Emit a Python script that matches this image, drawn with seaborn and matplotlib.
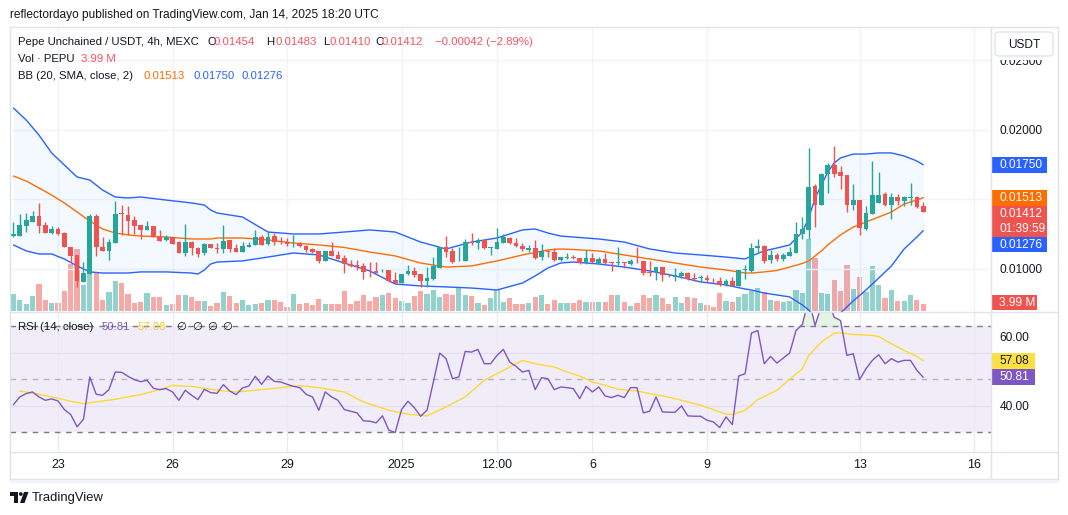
import numpy as np
import matplotlib
matplotlib.use("Agg")
import matplotlib.pyplot as plt
import seaborn as sns
from matplotlib.patches import Rectangle, FancyBboxPatch, Polygon, Circle
from matplotlib.lines import Line2D
from matplotlib.transforms import IdentityTransform

# ---------------- data ----------------
tick_labels = ["23", "26", "29", "2025", "12:00", "6", "9", "13", "16"]
tick_candle = [7, 25, 43, 61, 76, 91, 109, 133, 151]

opens = [0.01240,0.01240,0.01312,0.01341,0.01381,0.01317,0.01261,0.01288,0.01261,0.01156,
         0.01101,0.00909,0.00962,0.01381,0.01161,0.01132,0.01189,0.01400,0.01388,0.01353,
         0.01317,0.01281,0.01309,0.01233,0.01209,0.01228,0.01192,0.01118,0.01197,0.01149,
         0.01113,0.01178,0.01151,0.01142,0.01209,0.01153,0.01125,0.01161,0.01173,0.01228,
         0.01180,0.01237,0.01199,0.01192,0.01177,0.01185,0.01165,0.01144,0.01129,0.01060,
         0.01129,0.01101,0.01082,0.01036,0.01029,0.01024,0.00988,0.00983,0.00983,0.00993,
         0.00921,0.00902,0.00962,0.00986,0.00964,0.00916,0.00926,0.01010,0.01156,0.01129,
         0.01062,0.01060,0.01197,0.01185,0.01209,0.01151,0.01142,0.01190,0.01225,0.01190,
         0.01165,0.01137,0.01149,0.01089,0.01125,0.01125,0.01065,0.01082,0.01086,0.01077,
         0.01041,0.01077,0.01046,0.01072,0.01048,0.01043,0.01046,0.01034,0.01060,0.01058,
         0.00981,0.00976,0.01012,0.00952,0.00945,0.00950,0.00974,0.00933,0.00935,0.00938,
         0.00923,0.00914,0.00885,0.00914,0.00880,0.00991,0.00988,0.01149,0.01166,0.01065,
         0.01101,0.01070,0.01096,0.01118,0.01252,0.01281,0.01597,0.01461,0.01681,0.01748,
         0.01698,0.01676,0.01461,0.01496,0.01288,0.01396,0.01477,0.01540,0.01461,0.01520,
         0.01489,0.01513,0.01516,0.01454]
highs = [0.01341,0.01396,0.01400,0.01420,0.01477,0.01341,0.01309,0.01305,0.01269,0.01161,
         0.01101,0.01053,0.01393,0.01396,0.01228,0.01216,0.01489,0.01460,0.01456,0.01381,
         0.01317,0.01348,0.01309,0.01281,0.01245,0.01233,0.01201,0.01321,0.01201,0.01161,
         0.01185,0.01180,0.01185,0.01317,0.01209,0.01178,0.01197,0.01197,0.01281,0.01245,
         0.01269,0.01261,0.01233,0.01221,0.01245,0.01197,0.01173,0.01149,0.01129,0.01130,
         0.01197,0.01130,0.01101,0.01065,0.01065,0.01041,0.01050,0.01053,0.00998,0.00993,
         0.00981,0.00965,0.01029,0.01012,0.00965,0.01012,0.01089,0.01157,0.01237,0.01149,
         0.01156,0.01213,0.01257,0.01225,0.01210,0.01161,0.01293,0.01249,0.01233,0.01221,
         0.01185,0.01173,0.01209,0.01177,0.01137,0.01149,0.01089,0.01113,0.01101,0.01077,
         0.01137,0.01113,0.01089,0.01117,0.01053,0.01156,0.01053,0.01070,0.01161,0.01058,
         0.01058,0.01013,0.01017,0.00962,0.01005,0.00988,0.00981,0.00974,0.00957,0.00957,
         0.00933,0.00945,0.00926,0.00940,0.00994,0.01030,0.01190,0.01218,0.01173,0.01137,
         0.01118,0.01113,0.01156,0.01341,0.01372,0.01868,0.01612,0.01688,0.01760,0.01885,
         0.01740,0.01677,0.01612,0.01497,0.01456,0.01779,0.01695,0.01556,0.01544,0.01537,
         0.01528,0.01621,0.01525,0.01483]
lows = [0.01233,0.01239,0.01269,0.01340,0.01257,0.01257,0.01249,0.01245,0.01160,0.01053,
        0.00873,0.00908,0.00961,0.01094,0.01131,0.01065,0.01185,0.01245,0.01245,0.01249,
        0.01216,0.01280,0.01228,0.01203,0.01204,0.01179,0.01117,0.01094,0.01101,0.01084,
        0.01101,0.01148,0.01117,0.01117,0.01125,0.01120,0.01124,0.01156,0.01172,0.01172,
        0.01172,0.01172,0.01177,0.01165,0.01156,0.01156,0.01125,0.01117,0.01041,0.01059,
        0.01095,0.01070,0.00974,0.01017,0.00993,0.00930,0.00945,0.00973,0.00978,0.00909,
        0.00897,0.00897,0.00957,0.00940,0.00873,0.00873,0.00921,0.01005,0.01089,0.01041,
        0.01057,0.01059,0.01173,0.01142,0.01144,0.01101,0.01141,0.01185,0.01180,0.01161,
        0.01132,0.01125,0.01070,0.01065,0.01089,0.01060,0.01060,0.01070,0.01070,0.01036,
        0.01036,0.01046,0.01036,0.01036,0.00986,0.01029,0.01009,0.01029,0.01046,0.00957,
        0.00950,0.00921,0.00916,0.00940,0.00916,0.00933,0.00921,0.00916,0.00909,0.00909,
        0.00909,0.00880,0.00880,0.00879,0.00879,0.00926,0.00981,0.01113,0.01046,0.01046,
        0.01060,0.01060,0.01094,0.01113,0.01216,0.01213,0.01300,0.01460,0.01544,0.01664,
        0.01573,0.01413,0.01425,0.01245,0.01281,0.01395,0.01472,0.01453,0.01360,0.01461,
        0.01456,0.01461,0.01437,0.01410]
closes = [0.01249,0.01317,0.01353,0.01381,0.01312,0.01261,0.01288,0.01249,0.01161,0.01096,
          0.00916,0.00969,0.01381,0.01161,0.01132,0.01192,0.01396,0.01396,0.01348,0.01312,
          0.01281,0.01309,0.01233,0.01204,0.01228,0.01180,0.01118,0.01192,0.01149,0.01108,
          0.01180,0.01149,0.01146,0.01201,0.01144,0.01125,0.01165,0.01173,0.01228,0.01173,
          0.01228,0.01192,0.01194,0.01177,0.01182,0.01165,0.01137,0.01120,0.01060,0.01129,
          0.01096,0.01072,0.01034,0.01022,0.01012,0.00981,0.00983,0.00974,0.00988,0.00916,
          0.00902,0.00964,0.00986,0.00957,0.00916,0.00933,0.01022,0.01156,0.01125,0.01048,
          0.01067,0.01192,0.01185,0.01209,0.01149,0.01156,0.01192,0.01228,0.01185,0.01168,
          0.01142,0.01153,0.01077,0.01130,0.01120,0.01065,0.01084,0.01086,0.01082,0.01041,
          0.01077,0.01053,0.01072,0.01041,0.01043,0.01048,0.01041,0.01060,0.01055,0.00969,
          0.00974,0.01012,0.00957,0.00947,0.00957,0.00974,0.00928,0.00928,0.00940,0.00921,
          0.00918,0.00885,0.00914,0.00880,0.00993,0.00995,0.01149,0.01166,0.01060,0.01101,
          0.01072,0.01101,0.01125,0.01252,0.01288,0.01592,0.01461,0.01683,0.01748,0.01683,
          0.01669,0.01461,0.01496,0.01293,0.01401,0.01532,0.01532,0.01461,0.01520,0.01492,
          0.01520,0.01518,0.01449,0.01412]
volume_m = [9.69,6.27,3.99,8.55,15.39,6.27,4.56,4.56,11.40,26.79,
            35.34,14.82,21.66,21.66,6.27,10.83,17.10,15.96,9.69,4.56,
            5.13,10.26,7.98,7.98,3.42,3.99,9.12,9.12,7.98,5.70,
            5.70,2.85,4.56,10.83,8.55,4.56,6.27,3.42,3.99,4.56,
            6.27,6.27,5.13,2.28,9.69,3.99,4.56,3.42,6.84,3.99,
            3.99,3.99,11.40,3.99,5.70,9.12,5.70,7.98,9.12,10.26,
            7.41,5.70,4.56,8.55,11.40,9.69,11.97,7.98,9.69,9.12,
            13.68,9.12,8.55,4.56,3.42,7.41,11.97,5.13,7.41,3.99,
            3.99,4.56,7.98,9.12,3.99,6.27,4.56,4.56,4.56,6.27,
            5.13,5.13,5.13,5.13,9.12,9.12,5.13,2.85,4.56,9.12,
            7.41,9.12,7.41,3.99,7.98,4.56,7.98,7.41,4.56,3.42,
            2.28,10.26,5.70,5.13,7.98,9.69,11.40,13.11,10.83,6.27,
            5.70,5.13,5.70,11.97,10.26,41.04,30.21,10.26,9.69,17.67,
            11.40,26.22,12.54,19.38,10.83,25.65,14.82,7.41,11.97,5.70,
            5.70,9.12,6.27,3.99]

bb_idx = [0,2,4,6,8,10,12,14,16,18,20,24,28,29,30,31,32,36,40,44,48,52,56,60,64,68,72,76,80,82,
          84,86,88,92,96,100,104,108,112,115,116,118,120,122,124,125,126,127,128,129,130,132,134,136,138,140,142,143]
bb_upper = [0.02158,0.02072,0.01964,0.01835,0.01748,0.01662,0.01640,0.01568,0.01518,0.01511,
            0.01518,0.01496,0.01475,0.01468,0.01460,0.01424,0.01403,0.01374,0.01266,0.01252,
            0.01252,0.01266,0.01281,0.01266,0.01194,0.01144,0.01194,0.01223,0.01281,0.01288,
            0.01259,0.01237,0.01230,0.01216,0.01194,0.01144,0.01115,0.01101,0.01086,0.01072,
            0.01094,0.01130,0.01151,0.01173,0.01266,0.01367,0.01511,0.01604,0.01698,0.01763,
            0.01799,0.01827,0.01827,0.01835,0.01835,0.01813,0.01777,0.01750]
bb_mid = [0.01669,0.01633,0.01583,0.01532,0.01475,0.01410,0.01345,0.01288,0.01259,0.01245,
          0.01237,0.01230,0.01216,0.01216,0.01216,0.01216,0.01223,0.01223,0.01209,0.01187,
          0.01173,0.01155,0.01122,0.01094,0.01043,0.01014,0.01022,0.01058,0.01101,0.01119,
          0.01137,0.01144,0.01140,0.01130,0.01101,0.01072,0.01043,0.01014,0.00993,0.00971,
          0.00971,0.00979,0.00989,0.01014,0.01040,0.01058,0.01094,0.01130,0.01173,0.01209,
          0.01245,0.01302,0.01338,0.01374,0.01410,0.01468,0.01496,0.01513]
bb_lower = [0.01173,0.01130,0.01108,0.01108,0.01072,0.01022,0.00979,0.00971,0.00971,0.00971,
            0.00979,0.00979,0.00971,0.00964,0.00993,0.01036,0.01050,0.01058,0.01086,0.01115,
            0.01101,0.01043,0.00986,0.00892,0.00878,0.00871,0.00863,0.00849,0.00899,0.00950,
            0.01007,0.01043,0.01050,0.01036,0.01014,0.00986,0.00950,0.00907,0.00885,0.00856,
            0.00849,0.00827,0.00813,0.00799,0.00741,0.00705,0.00648,0.00619,0.00597,0.00619,
            0.00684,0.00770,0.00849,0.00935,0.01022,0.01144,0.01230,0.01276]

rsi = [40.53,43.42,44.67,45.30,43.42,42.16,42.66,41.91,38.65,36.77,
       32.13,35.02,50.94,44.42,44.04,46.18,52.82,52.70,51.19,49.94,
       49.18,49.69,46.68,46.18,46.55,45.30,42.16,45.92,44.04,42.41,
       46.30,45.05,44.80,48.06,45.67,44.29,46.80,47.55,51.19,48.18,
       51.32,49.31,49.06,48.18,47.43,46.93,44.42,43.42,38.40,45.30,
       43.42,42.16,38.65,38.02,37.40,34.39,34.26,33.64,36.27,30.88,
       30.00,38.65,41.79,39.40,36.14,38.40,49.06,59.97,57.84,50.31,
       50.94,60.60,60.34,61.35,55.96,55.96,59.09,61.35,56.58,54.95,
       52.82,53.45,46.18,50.69,50.31,46.18,47.18,46.93,46.55,42.79,
       47.43,45.30,47.18,43.79,43.17,44.04,43.17,46.93,46.93,37.40,
       38.02,43.42,37.77,37.65,37.65,40.03,36.27,36.14,36.14,34.64,
       34.01,31.88,35.89,33.01,51.32,52.19,67.49,68.50,55.96,58.71,
       56.21,58.09,59.97,68.50,70.75,80.50,70.38,78.00,80.00,73.51,
       72.26,59.09,59.72,49.94,54.08,57.21,59.34,55.96,57.84,56.58,
       57.21,57.21,53.45,50.81]
rsi_ma_idx = [1,4,6,9,11,13,16,20,23,25,27,28,32,35,38,42,45,48,52,55,
              59,62,65,68,71,74,77,80,82,85,87,89,91,93,95,98,100,102,104,106,
              108,110,112,113,115,117,120,122,124,125,127,129,130,132,135,136,138,140,142,143]
rsi_ma = [45.67,44.42,43.42,41.79,40.91,41.54,42.54,44.29,46.18,47.81,
          47.43,47.43,45.92,45.30,45.92,46.93,47.68,46.93,45.30,41.54,
          38.40,36.90,36.27,39.66,43.42,49.69,53.45,57.21,55.96,54.70,
          52.82,51.32,49.06,47.81,46.30,45.67,44.67,43.79,42.79,41.54,
          40.28,38.65,36.90,36.77,38.40,42.41,45.92,50.06,54.08,59.09,
          64.11,67.49,67.62,66.99,66.61,66.24,63.48,60.97,58.71,57.08]

# ---------------- style ----------------
sns.set_theme(style="white")
FONT = ["Liberation Sans", "DejaVu Sans"]
plt.rcParams["font.family"] = FONT

UP, DOWN = "#26a69a", "#ef5350"
UP_V, DOWN_V = "#92d2cc", "#f7a9a7"
DARK = "#131722"
RED_T = "#f7525f"
ORANGE, BLUE = "#ff6d00", "#2962ff"
PURPLE, YELLOW = "#7e57c2", "#fdd835"
GRID = "#f0f3fa"
BORDER = "#e0e3eb"

W, H = 1068, 515
fig = plt.figure(figsize=(W / 100, H / 100), dpi=100)
fig.patch.set_facecolor("white")


def rect(x0, y0, x1, y1):
    return [x0 / W, 1 - y1 / H, (x1 - x0) / W, (y1 - y0) / H]


ax_vol = fig.add_axes(rect(10, 27, 991, 312))
ax = fig.add_axes(rect(10, 27, 991, 312))
ax.set_facecolor("none")
ax_rsi = fig.add_axes(rect(10, 312, 991, 452))
for a in (ax_vol, ax, ax_rsi):
    for s in a.spines.values():
        s.set_visible(False)
    a.grid(False)

idx = np.arange(len(closes))
o, h, l, c = map(np.array, (opens, highs, lows, closes))
up = c >= o
cols = np.where(up, UP, DOWN)
vcols = np.where(up, UP_V, DOWN_V)

# volume
ax_vol.bar(idx, volume_m, width=0.82, color=vcols, linewidth=0)

# grid
for tc in tick_candle:
    ax.axvline(tc, color=GRID, lw=1, zorder=0.5)
    ax_rsi.axvline(tc, color="#ebe8f3", lw=1, zorder=0.5)
for yv in (0.01, 0.015, 0.02, 0.025):
    ax.axhline(yv, color=GRID, lw=1, zorder=0.5)

# bollinger
ax.fill_between(bb_idx, bb_lower, bb_upper, color="#2196f3", alpha=0.05, lw=0, zorder=1)
sns.lineplot(x=bb_idx, y=bb_upper, ax=ax, color=BLUE, linewidth=1, sort=False, estimator=None, legend=False, zorder=2)
sns.lineplot(x=bb_idx, y=bb_lower, ax=ax, color=BLUE, linewidth=1, sort=False, estimator=None, legend=False, zorder=2)
sns.lineplot(x=bb_idx, y=bb_mid, ax=ax, color=ORANGE, linewidth=1, sort=False, estimator=None, legend=False, zorder=2)

# candles
ax.vlines(idx, l, h, colors=cols, lw=1, zorder=3)
body_bot = np.minimum(o, c)
body_h = np.maximum(np.abs(c - o), 0.00006)
ax.bar(idx, body_h, bottom=body_bot, width=0.74, color=cols, linewidth=0, zorder=4)

# RSI pane
rsi_a = np.array(rsi)
ax_rsi.axhspan(30, 70, color=PURPLE, alpha=0.1, lw=0, zorder=0.2)
for yv in (40, 60):
    ax_rsi.axhline(yv, color="#e4dff0", lw=1, zorder=0.5)
ax_rsi.axhline(70, color="#787b86", lw=1, ls=(0, (4, 4)), zorder=1)
ax_rsi.axhline(30, color="#787b86", lw=1, ls=(0, (4, 4)), zorder=1)
ax_rsi.axhline(50, color="#787b86", alpha=0.5, lw=1, ls=(0, (4, 4)), zorder=1)
ax_rsi.fill_between(idx, 70, rsi_a, where=rsi_a > 70, interpolate=True, color="#4caf50", alpha=0.15, lw=0, zorder=1.5)
sns.lineplot(x=rsi_ma_idx, y=rsi_ma, ax=ax_rsi, color=YELLOW, linewidth=1, sort=False, estimator=None, legend=False, zorder=2)
sns.lineplot(x=idx, y=rsi, ax=ax_rsi, color=PURPLE, linewidth=1, sort=False, estimator=None, legend=False, zorder=3)

# limits
xl = (-0.545, 153.65)
for a in (ax_vol, ax, ax_rsi):
    a.set_xlim(*xl)
ax.set_ylim(0.006906, 0.027410)
ax_vol.set_ylim(-0.57, 161.9)
ax_rsi.set_ylim(22.64, 75.47)
ax_vol.set_xticks([]); ax_vol.set_yticks([])
ax_vol.set_xlabel(""); ax_vol.set_ylabel("")
ax.set_xticks([]); ax.set_xlabel(""); ax.set_ylabel("")
ax_rsi.set_xlabel(""); ax_rsi.set_ylabel("")

renderer = fig.canvas.get_renderer()


def width_px(s, size, weight="normal"):
    t = fig.text(0, 0, s, fontsize=size, fontweight=weight, family=FONT)
    w = t.get_window_extent(renderer).width
    t.remove()
    return w


axis_size = 9 * 43 / width_px("0.02000", 9)
leg_size = 9 * 182 / width_px("Pepe Unchained / USDT, 4h, MEXC", 9)
title = "reflectordayo published on TradingView.com, Jan 14, 2025 18:20 UTC"
title_size = 9 * 372 / width_px(title, 9)
time_size = 9 * 31 / width_px("12:00", 9)

# axis ticks
ax.yaxis.tick_right()
ax.set_yticks([0.01, 0.02, 0.025])
ax.set_yticklabels(["0.01000", "0.02000", "0.02500"])
ax.tick_params(axis="y", length=0, pad=6, labelsize=axis_size, colors=DARK)
ax_rsi.yaxis.tick_right()
ax_rsi.set_yticks([40])
ax_rsi.set_yticklabels(["40.00"])
ax_rsi.tick_params(axis="y", length=0, pad=6, labelsize=axis_size, colors=DARK)
ax_rsi.set_xticks(tick_candle)
ax_rsi.set_xticklabels(tick_labels)
ax_rsi.tick_params(axis="x", length=0, pad=5, labelsize=time_size, colors=DARK)


def ftext(x, y, s, color=DARK, size=None, ha="left", va="center", **kw):
    return fig.text(x / W, 1 - y / H, s, color=color, fontsize=size or leg_size,
                    ha=ha, va=va, family=FONT, **kw)


def fline(x0, y0, x1, y1, color=BORDER, lw=1):
    fig.add_artist(Line2D([x0 / W, x1 / W], [1 - y0 / H, 1 - y1 / H], color=color, lw=lw,
                          transform=fig.transFigure))


def fbox(x0, y0, x1, y1, color, zorder=1):
    fig.add_artist(Rectangle((x0 / W, 1 - y1 / H), (x1 - x0) / W, (y1 - y0) / H,
                             transform=fig.transFigure, facecolor=color, edgecolor="none",
                             zorder=zorder))


def ypix(a, v):
    return H - a.transData.transform((0, v))[1]


# mask the top of the price scale (label clipped under the currency button)
fbox(992, 27.5, 1057.5, 59.5, "white", zorder=1)

# frame
fline(10, 27, 1058, 27)
fline(10, 479, 1058, 479)
fline(10, 27, 10, 479)
fline(1058, 27, 1058, 479)
fline(991, 27, 991, 479)
fline(10, 312, 1058, 312)
fline(10, 452, 1058, 452)
fline(10, 481, 1058, 481, color="#f0f3fa", lw=2)

# title
ftext(10, 15, title, size=title_size)

# legend lines
ftext(18, 42, "Pepe Unchained / USDT, 4h, MEXC")
chg = closes[-1] - opens[-1]
pct = chg / opens[-1] * 100
for lab, xl_, val, xv in (("O", 207, opens[-1], 214), ("H", 266, highs[-1], 275),
                          ("L", 323, lows[-1], 330), ("C", 375, closes[-1], 382)):
    ftext(xl_, 42, lab)
    ftext(xv, 42, f"{val:.5f}", color=RED_T)
ftext(435, 42, f"\u2212{abs(chg):.5f} (\u2212{abs(pct):.2f}%)", color=RED_T)
ftext(18, 59, "Vol \u00b7 PEPU")
ftext(81, 59, f"{volume_m[-1]:.2f} M", color=RED_T)
ftext(18, 76, "BB (20, SMA, close, 2)")
ftext(143, 76, f"{bb_mid[-1]:.5f}", color=ORANGE)
ftext(193, 76, f"{bb_upper[-1]:.5f}", color=BLUE)
ftext(242, 76, f"{bb_lower[-1]:.5f}", color=BLUE)

# RSI legend
ftext(18, 327, "RSI (14, close)")
ftext(102, 327, f"{rsi[-1]:.2f}", color=PURPLE)
ftext(138, 327, f"{rsi_ma[-1]:.2f}", color="#f2d230")
for xs in (176, 192, 207, 222):
    ftext(xs, 327, "\u2205")

# USDT box
ux0, uy0, ux1, uy1 = 995, 32, 1053, 56
fig.add_artist(FancyBboxPatch((ux0, H - uy1), ux1 - ux0, uy1 - uy0,
                              boxstyle="round,pad=0,rounding_size=4",
                              transform=IdentityTransform(), facecolor="white",
                              edgecolor=BORDER, lw=1, zorder=5))
ftext((ux0 + ux1) / 2, 44.5, "USDT", size=axis_size, ha="center", zorder=6)

# price scale labels
y_up = ypix(ax, bb_upper[-1])
fbox(991, y_up - 8, 1047, y_up + 8, BLUE)
ftext(999, y_up, f"{bb_upper[-1]:.5f}", color="white", size=axis_size)
y_md = ypix(ax, bb_mid[-1])
fbox(991, y_md - 8, 1047, y_md + 8, ORANGE)
ftext(999, y_md, f"{bb_mid[-1]:.5f}", color="white", size=axis_size)
y_cl = ypix(ax, closes[-1])
red_top = max(y_cl - 8, y_md + 8)
fbox(991, red_top, 1047, red_top + 31, DOWN)
ftext(999, red_top + 8.5, f"{closes[-1]:.5f}", color="white", size=axis_size)
ftext(999, red_top + 23, "01:39:59", color="white", size=axis_size)
y_lo = max(ypix(ax, bb_lower[-1]), red_top + 31 + 8.5)
fbox(991, y_lo - 8, 1047, y_lo + 7, BLUE)
ftext(999, y_lo, f"{bb_lower[-1]:.5f}", color="white", size=axis_size)
y_v = min(ypix(ax_vol, volume_m[-1]), 302.5)
fbox(991, y_v - 7.5, 1037, y_v + 7.5, DOWN)
ftext(999, y_v, f"{volume_m[-1]:.2f} M", color="white", size=axis_size)

# RSI scale labels
ftext(999, 338, "60.00", size=axis_size)
y_ma = ypix(ax_rsi, rsi_ma[-1])
fbox(991, y_ma - 8, 1035, y_ma + 8, "#fbe043")
ftext(999, y_ma, f"{rsi_ma[-1]:.2f}", color=DARK, size=axis_size)
y_r = ypix(ax_rsi, rsi[-1])
fbox(991, y_r - 8, 1035, y_r + 8, PURPLE)
ftext(999, y_r, f"{rsi[-1]:.2f}", color="white", size=axis_size)

# TradingView logo
def fpoly(pts, color=DARK):
    fig.add_artist(Polygon([(x / W, 1 - y / H) for x, y in pts], closed=True,
                           transform=fig.transFigure, facecolor=color, edgecolor="none"))

fpoly([(10, 492), (18, 492), (18, 503), (14, 503), (14, 496), (10, 496)])
fig.add_artist(Circle((20.8, H - 494), 1.9, transform=IdentityTransform(), facecolor=DARK, edgecolor="none"))
fpoly([(24, 492), (28.5, 492), (24.5, 503), (20, 503)])
tv_size = 9 * 72 / width_px("TradingView", 9)
ftext(32, 497.5, "TradingView", size=tv_size)

fig.savefig("out.png", dpi=100, facecolor="white")
